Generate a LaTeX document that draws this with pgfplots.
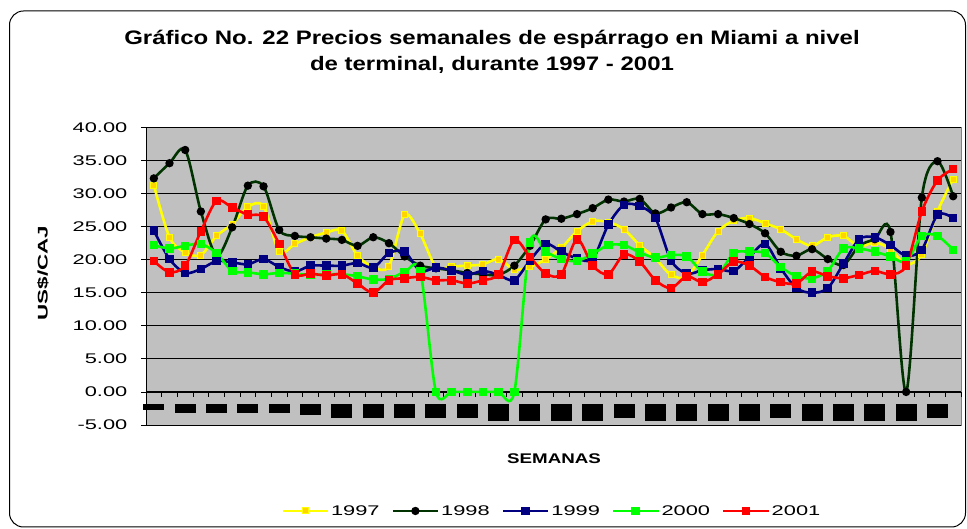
\documentclass[border=0pt]{standalone}
\usepackage{pgfplots}
\pgfplotsset{compat=1.18}
\usepackage{pgfplotstable}
\usepackage{fontspec}
\setmainfont{Liberation Sans}
\newfontfamily\tickfont{Liberation Sans}[FakeStretch=1.56]
\newfontfamily\titlefont{Liberation Sans}[FakeStretch=1.23]
\newfontfamily\ylabfont{Liberation Sans}[FakeStretch=1.6]
\newfontfamily\xlabfont{Liberation Sans}[FakeStretch=1.34]

\definecolor{plotgray}{HTML}{C0C0C0}
\definecolor{bordergray}{HTML}{808080}
\definecolor{c97}{HTML}{FFFF00}
\definecolor{c97m}{HTML}{FFD400}
\definecolor{c98}{HTML}{003300}
\definecolor{c99}{HTML}{000080}
\definecolor{c00}{HTML}{00FF00}
\definecolor{c01}{HTML}{FF0000}

\pgfplotstableread{
w  a97  a98  a99  a00  a01
0  31.3 32.3 24.4 22.2 19.8
1  23.4 34.6 20.1 21.7 18.1
2  21.1 36.6 18.0 22.1 19.1
3  20.7 27.3 18.6 22.4 24.3
4  23.6 20.6 19.8 21.0 28.9
5  25.4 24.9 19.6 18.3 27.9
6  28.0 31.2 19.3 18.1 26.8
7  28.1 31.1 20.1 17.8 26.5
8  21.2 24.5 18.9 18.0 22.4
9  22.4 23.6 18.2 17.9 17.8
10 23.4 23.4 19.1 17.7 17.9
11 24.1 23.2 19.1 17.8 17.6
12 24.4 23.0 19.1 17.8 17.8
13 20.6 22.1 19.5 17.5 16.4
14 18.9 23.4 18.8 17.0 15.0
15 19.0 22.5 21.0 17.1 16.9
16 26.8 20.5 21.2 18.1 17.2
17 23.9 19.1 18.3 18.2 17.4
18 18.9 18.7 18.8 0.0  16.9
19 19.0 18.4 18.4 0.0  16.9
20 19.1 18.0 17.7 0.0  16.4
21 19.3 17.8 18.3 0.0  16.9
22 20.1 17.7 17.7 0.0  17.8
23 18.5 19.1 16.9 0.0  23.0
24 18.9 22.1 19.9 22.6 20.4
25 20.1 26.1 22.4 21.2 17.9
26 21.8 26.2 21.2 20.1 17.8
27 24.3 26.9 20.2 19.8 23.1
28 25.8 27.8 20.1 20.9 19.1
29 25.7 29.1 25.3 22.2 17.8
30 24.6 28.8 28.3 22.2 20.8
31 22.2 29.2 28.1 21.1 19.7
32 20.2 27.0 26.3 20.3 16.9
33 17.7 27.9 19.9 20.7 15.7
34 17.4 28.7 17.9 20.5 17.5
35 20.7 26.9 18.4 18.2 16.6
36 24.3 26.9 18.6 17.8 17.8
37 25.9 26.3 18.3 21.0 19.7
38 26.3 25.4 20.4 21.2 19.1
39 25.5 24.0 22.4 21.0 17.4
40 24.6 21.2 18.7 18.9 16.6
41 23.1 20.6 15.7 17.5 16.4
42 22.1 21.6 15.0 17.2 18.2
43 23.4 20.1 15.7 18.3 17.5
44 23.6 19.2 19.4 21.7 17.2
45 22.0 22.1 23.1 21.7 17.7
46 22.6 23.1 23.4 21.2 18.3
47 21.6 24.2 22.2 20.5 17.8
48 19.3 0.0  20.6 19.7 19.1
49 20.8 29.4 21.5 23.6 27.3
50 27.3 34.9 26.8 23.6 32.0
51 32.2 29.6 26.3 21.5 33.7
}\datatable

\newcommand{\bx}[1]{\rule{21bp}{#1bp}}

\begin{document}
\begin{tikzpicture}
\useasboundingbox (0,0) rectangle (967bp,529bp);
\draw[black, line width=1bp, rounded corners=14bp] (9.5bp,2bp) rectangle (965.5bp,518bp);

\node[font=\titlefont\bfseries\fontsize{19.5bp}{22bp}\selectfont, anchor=base] at (492bp,484bp) {Gráfico No. 22 Precios semanales de espárrago en Miami a nivel};
\node[font=\titlefont\bfseries\fontsize{19.5bp}{22bp}\selectfont, anchor=base] at (492bp,458bp) {de terminal, durante 1997 - 2001};

\node[rotate=90, font=\ylabfont\bfseries\fontsize{14bp}{16bp}\selectfont] at (43bp,256bp) {US\$/CAJ};
\node[font=\xlabfont\bfseries\fontsize{14bp}{16bp}\selectfont, anchor=base] at (554bp,65bp) {SEMANAS};

\begin{axis}[
  at={(146bp,104bp)}, anchor=south west,
  scale only axis, width=815bp, height=297.5bp,
  xmin=-0.5, xmax=51.5, ymin=-5, ymax=40,
  axis x line*=middle, axis y line*=left,
  axis line style={black, line width=1bp},
  axis background/.style={fill=plotgray, draw=bordergray, line width=1bp},
  ytick={-5,0,...,40},
  ymajorgrids, grid style={black, line width=0.8bp},
  tick align=outside,
  major tick length=5bp,
  tick style={black, line width=0.8bp},
  xtick={-0.5,0.5,...,51.5},
  xticklabels={},
  extra x ticks={0,2,...,50},
  extra x tick labels={\bx{6},\bx{8.7},\bx{8.7},\bx{8.7},\bx{8.7},\bx{10.7},\bx{13.7},\bx{13.7},\bx{13.7},\bx{13.7},\bx{13.7},\bx{16.7},\bx{16.7},\bx{16.7},\bx{16.7},\bx{13.7},\bx{16.7},\bx{16.7},\bx{16.7},\bx{16.7},\bx{13.7},\bx{16.7},\bx{16.7},\bx{16.7},\bx{16.7},\bx{13.7}},
  extra x tick style={major tick length=0pt, grid=none, tick label style={inner sep=0pt, anchor=north, yshift=-12bp}},
  yticklabel style={font=\tickfont\fontsize{14bp}{16bp}\selectfont, inner sep=0pt, xshift=-13.5bp,
     /pgf/number format/.cd, fixed, fixed zerofill, precision=2, assume math mode=true},
  legend style={at={(0.498,-0.289)}, anchor=center, legend columns=5, draw=none, fill=none,
     font=\tickfont\fontsize{14bp}{16bp}\selectfont,
     /tikz/every even column/.append style={column sep=10bp}},
  legend image code/.code={\draw[#1, mark repeat=2, mark phase=2] plot coordinates {(0bp,0bp) (22.5bp,0bp) (45bp,0bp)};},
]
\addplot[c97, line width=2.6bp, smooth, mark=square*, mark size=3bp, mark options={fill=c97m, draw=c97, line width=1bp}] table[x=w,y=a97]{\datatable};
\addlegendentry{1997}
\addplot[c98, line width=2.6bp, smooth, mark=*, mark size=2.8bp, mark options={fill=black, draw=black}] table[x=w,y=a98]{\datatable};
\addlegendentry{1998}
\addplot[c99, line width=2.6bp, smooth, mark=square*, mark size=3bp, mark options={fill=c99, draw=c99}] table[x=w,y=a99]{\datatable};
\addlegendentry{1999}
\addplot[c00, line width=2.6bp, smooth, mark=square*, mark size=3bp, mark options={fill=c00, draw=c00}] table[x=w,y=a00]{\datatable};
\addlegendentry{2000}
\addplot[c01, line width=2.6bp, smooth, mark=square*, mark size=3bp, mark options={fill=c01, draw=c01}] table[x=w,y=a01]{\datatable};
\addlegendentry{2001}
\end{axis}
\end{tikzpicture}
\end{document}
